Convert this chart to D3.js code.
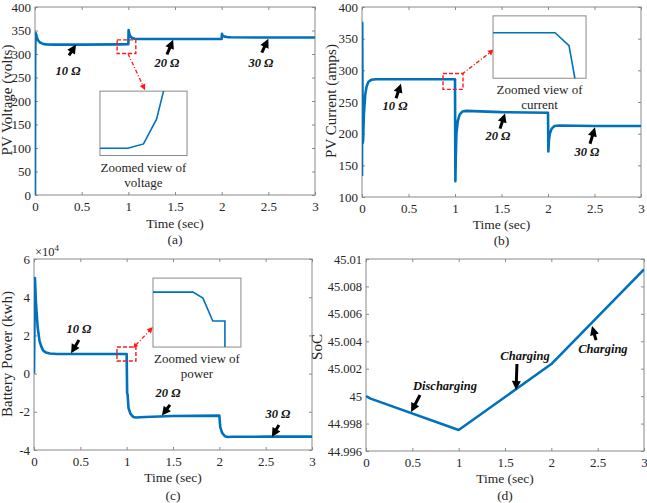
<!DOCTYPE html>
<html><head><meta charset="utf-8">
<script src="https://cdn.jsdelivr.net/npm/d3@7"></script>
<style>
html,body{margin:0;padding:0;background:#fff;}
svg{display:block;font-family:"Liberation Serif","Times New Roman",serif;}
</style></head>
<body>
<svg id="chart" width="647" height="503"></svg>
<script>
// ---------- DATA ----------
const xTicks = [0, 0.5, 1, 1.5, 2, 2.5, 3];
const xTickLabels = ["0", "0.5", "1", "1.5", "2", "2.5", "3"];

// (a) PV voltage
const voltTime = [0, 0.002, 0.006, 0.012, 0.02, 0.03, 0.05, 0.08, 0.12, 0.2, 0.5, 0.9, 1.0, 1.003, 1.008, 1.02, 1.04, 1.07, 1.1, 1.5, 2.0, 2.003, 2.01, 2.03, 2.06, 2.1, 2.5, 3];
const voltage  = [0, 290, 345, 342, 336, 330, 325, 322, 320.5, 320, 320, 320.5, 321, 351, 345, 338, 334, 332.5, 332, 332, 332, 343, 339, 337, 336, 335.5, 335, 335];
const voltTicks = [0, 50, 100, 150, 200, 250, 300, 350, 400];

// (b) PV current
const curTime = [0, 0.002, 0.004, 0.008, 0.012, 0.02, 0.035, 0.05, 0.07, 0.1, 0.15, 0.5, 1.0, 1.004, 1.008, 1.015, 1.03, 1.05, 1.08, 1.12, 1.5, 2.0, 2.004, 2.01, 2.02, 2.04, 2.07, 2.12, 2.5, 3];
const current = [133, 375, 300, 185, 190, 230, 262, 275, 282, 285, 286, 286, 286, 125, 160, 200, 220, 230, 235, 236, 234, 233, 172, 190, 200, 208, 212, 213, 212, 212];
const curTicks = [100, 150, 200, 250, 300, 350, 400];

// (c) Battery power (x10^4)
const powTime = [0, 0.01, 0.02, 0.04, 0.06, 0.08, 0.1, 0.13, 0.17, 0.25, 0.5, 1.0, 1.005, 1.01, 1.02, 1.04, 1.07, 1.1, 1.2, 1.5, 2.0, 2.01, 2.03, 2.06, 2.09, 2.15, 2.5, 3];
const power   = [0, 5.0, 3.8, 2.4, 1.7, 1.4, 1.2, 1.1, 1.05, 1.03, 1.03, 1.03, -1.0, -1.1, -1.8, -2.1, -2.27, -2.3, -2.27, -2.22, -2.2, -2.8, -3.1, -3.28, -3.32, -3.31, -3.3, -3.3];
const powTicks = [-4, -2, 0, 2, 4, 6];

// (d) SoC
const socTime = [0, 0.05, 1.0, 2.0, 3.0];
const soc     = [45.0000, 44.99982, 44.99753, 45.00234, 45.00925];
const socTicks = [44.996, 44.998, 45, 45.002, 45.004, 45.006, 45.008, 45.01];
const socTickLabels = ["44.996", "44.998", "45", "45.002", "45.004", "45.006", "45.008", "45.01"];

// Inset zoomed traces (normalized inset coordinates 0..1)
const voltInsetX = [0, 0.32, 0.5, 0.65, 0.73];
const voltInsetY = [0.112, 0.112, 0.18, 0.565, 1];
const curInsetX = [0, 0.667, 0.817, 0.88];
const curInsetY = [0.73, 0.73, 0.524, 0];
const powInsetX = [0, 0.455, 0.568, 0.68, 0.818, 0.818];
const powInsetY = [0.797, 0.797, 0.71, 0.377, 0.377, 0];

// Annotations: label, arrow head (t,v), arrow tail (t,v), text centre (t,v)
const voltNotes = [
  {label: "10 Ω", head: [0.44, 320], tail: [0.364, 297], text: [0.354, 262]},
  {label: "20 Ω", head: [1.48, 330.5], tail: [1.414, 299], text: [1.414, 278]},
  {label: "30 Ω", head: [2.50, 332.6], tail: [2.43, 303], text: [2.42, 278]}
];
const curNotes = [
  {label: "10 Ω", head: [0.419, 279], tail: [0.366, 256], text: [0.355, 242]},
  {label: "20 Ω", head: [1.538, 232], tail: [1.484, 208], text: [1.462, 194]},
  {label: "30 Ω", head: [2.505, 210], tail: [2.452, 184], text: [2.419, 170]}
];
const powNotes = [
  {label: "10 Ω", head: [0.40, 1.06], tail: [0.485, 1.76], text: [0.485, 2.28]},
  {label: "20 Ω", head: [1.38, -2.2], tail: [1.467, -1.64], text: [1.446, -1.07]},
  {label: "30 Ω", head: [2.567, -3.32], tail: [2.643, -2.69], text: [2.632, -2.17]}
];
const socNotes = [
  {label: "Discharging", head: [0.486, 44.99884], tail: [0.583, 45.00008], text: [0.852, 45.00067]},
  {label: "Charging", head: [1.619, 45.00045], tail: [1.629, 45.00234], text: [1.716, 45.00285]},
  {label: "Charging", head: [2.439, 45.00511], tail: [2.482, 45.00409], text: [2.557, 45.00336]}
];

// Zoom boxes (red dashed) and insets in parent data units
const voltZoom = {t0: 0.88, t1: 1.08, v0: 301, v1: 330};
const voltInset = {t0: 0.696, t1: 1.629, v0: 84, v1: 221, caption: ["Zoomed view of", "voltage"]};
const voltLink = {from: [0.996, 301], to: [1.179, 223], both: false};
const curZoom = {t0: 0.871, t1: 1.086, v0: 270, v1: 295};
const curInset = {t0: 1.409, t1: 2.409, v0: 287.5, v1: 386, caption: ["Zoomed view of", "current"]};
const curLink = {from: [1.075, 294], to: [1.419, 333], both: false};
const powZoom = {t0: 0.895, t1: 1.1, v0: 0.66, v1: 1.39};
const powInset = {t0: 1.284, t1: 2.233, v0: 1.39, v1: 5.0, caption: ["Zoomed view of", "power"]};
const powLink = {from: [1.068, 1.34], to: [1.284, 2.44], both: true};

// ---------- DRAWING ----------
const svg = d3.select("#chart");
const BLUE = "#0072BD", AXIS = "#8a8a8a", TXT = "#262626", FONT = "Liberation Serif";

function panel(opt) {
  const {box, yDomain, yTicks, yTickLabels, tData, vData} = opt;
  const g = svg.append("g").attr("font-family", FONT);
  const x = d3.scaleLinear().domain([0, 3]).range([box.l, box.r]);
  const y = d3.scaleLinear().domain(yDomain).range([box.b, box.t]);

  const xa = d3.axisBottom(x).tickValues(xTicks).tickFormat((d, i) => xTickLabels[i]).tickSizeInner(-3).tickSizeOuter(0).tickPadding(7);
  const ya = d3.axisLeft(y).tickValues(yTicks).tickFormat((d, i) => yTickLabels ? yTickLabels[i] : String(d)).tickSizeInner(-3).tickSizeOuter(0).tickPadding(4);
  const gx = g.append("g").attr("transform", `translate(0,${box.b})`).call(xa);
  const gy = g.append("g").attr("transform", `translate(${box.l},0)`).call(ya);
  const gxt = g.append("g").attr("transform", `translate(0,${box.t})`).call(d3.axisTop(x).tickValues(xTicks).tickFormat("").tickSizeInner(-3).tickSizeOuter(0));
  const gyr = g.append("g").attr("transform", `translate(${box.r},0)`).call(d3.axisRight(y).tickValues(yTicks).tickFormat("").tickSizeInner(-3).tickSizeOuter(0));
  [gx, gy, gxt, gyr].forEach(a => {
    a.attr("font-family", FONT).attr("font-size", 13);
    a.select(".domain").remove();
    a.selectAll("line").attr("stroke", AXIS);
    a.selectAll("text").attr("fill", TXT);
  });
  if (opt.yTickSize) gy.attr("font-size", opt.yTickSize);
  g.append("rect").attr("x", box.l).attr("y", box.t).attr("width", box.r - box.l).attr("height", box.b - box.t)
    .attr("fill", "none").attr("stroke", AXIS).attr("stroke-width", 1);

  const clipId = "clip" + Math.random().toString(36).slice(2);
  svg.append("clipPath").attr("id", clipId).append("rect")
    .attr("x", box.l).attr("y", box.t - 2).attr("width", box.r - box.l).attr("height", box.b - box.t + 4);
  const line = d3.line().x(d => x(d[0])).y(d => y(d[1]));
  g.append("path").datum(tData.map((t, i) => [t, vData[i]]))
    .attr("d", line).attr("fill", "none").attr("stroke", BLUE).attr("stroke-width", 2.6)
    .attr("stroke-linejoin", "round").attr("clip-path", `url(#${clipId})`);

  // labels
  g.append("text").attr("x", (box.l + box.r) / 2).attr("y", box.b + opt.xlabDy).attr("text-anchor", "middle")
    .attr("fill", TXT).attr("font-size", 13.5).text("Time (sec)");
  g.append("text").attr("x", (box.l + box.r) / 2).attr("y", box.b + opt.capDy).attr("text-anchor", "middle")
    .attr("fill", TXT).attr("font-size", 13.5).text(opt.caption);
  g.append("text").attr("transform", `translate(${opt.ylabX},${opt.ylabY}) rotate(-90)`).attr("text-anchor", "middle")
    .attr("fill", TXT).attr("font-size", 15).text(opt.ylabel);
  return {g, x, y};
}

function arrowHead(g, x1, y1, x2, y2, len, wid, color) {
  const a = Math.atan2(y2 - y1, x2 - x1);
  const bx = x2 - len * Math.cos(a), by = y2 - len * Math.sin(a);
  const px = -Math.sin(a) * wid / 2, py = Math.cos(a) * wid / 2;
  g.append("path").attr("d", `M${x2},${y2}L${bx + px},${by + py}L${bx - px},${by - py}Z`).attr("fill", color);
  return [bx + 1 * Math.cos(a), by + 1 * Math.sin(a)];
}

function notes(p, list) {
  list.forEach(n => {
    const hx = p.x(n.head[0]), hy = p.y(n.head[1]);
    const tx = p.x(n.tail[0]), ty = p.y(n.tail[1]);
    const [bx, by] = arrowHead(p.g, tx, ty, hx, hy, 9, 9, "#000");
    p.g.append("line").attr("x1", tx).attr("y1", ty).attr("x2", bx).attr("y2", by)
      .attr("stroke", "#000").attr("stroke-width", 3);
    p.g.append("text").attr("x", p.x(n.text[0])).attr("y", p.y(n.text[1])).attr("text-anchor", "middle")
      .attr("dominant-baseline", "middle").attr("fill", "#111").attr("font-family", FONT)
      .attr("font-size", 12.5).attr("font-weight", "bold").attr("font-style", "italic").text(n.label);
  });
}

function zoomInset(p, zb, ins, link, ix, iy) {
  p.g.append("rect").attr("x", p.x(zb.t0)).attr("y", p.y(zb.v1))
    .attr("width", p.x(zb.t1) - p.x(zb.t0)).attr("height", p.y(zb.v0) - p.y(zb.v1))
    .attr("fill", "none").attr("stroke", "#ff1a1a").attr("stroke-width", 1.4).attr("stroke-dasharray", "4,2");
  const fx = p.x(link.from[0]), fy = p.y(link.from[1]), tx = p.x(link.to[0]), ty = p.y(link.to[1]);
  const [bx, by] = arrowHead(p.g, fx, fy, tx, ty, 6, 6, "#ff1a1a");
  let sx = fx, sy = fy;
  if (link.both) { [sx, sy] = arrowHead(p.g, tx, ty, fx, fy, 5, 5, "#ff1a1a"); }
  p.g.append("line").attr("x1", sx).attr("y1", sy).attr("x2", bx).attr("y2", by)
    .attr("stroke", "#ff1a1a").attr("stroke-width", 1.3).attr("stroke-dasharray", "4,2,1,2");
  const L = p.x(ins.t0), R = p.x(ins.t1), T = p.y(ins.v1), B = p.y(ins.v0);
  p.g.append("rect").attr("x", L).attr("y", T).attr("width", R - L).attr("height", B - T)
    .attr("fill", "#fff").attr("stroke", AXIS).attr("stroke-width", 1);
  const sx2 = d3.scaleLinear().domain([0, 1]).range([L, R]);
  const sy2 = d3.scaleLinear().domain([0, 1]).range([B, T]);
  p.g.append("path").datum(ix.map((v, i) => [v, iy[i]]))
    .attr("d", d3.line().x(d => sx2(d[0])).y(d => sy2(d[1])))
    .attr("fill", "none").attr("stroke", BLUE).attr("stroke-width", 1.6);
  ins.caption.forEach((c, i) => {
    p.g.append("text").attr("x", (L + R) / 2).attr("y", B + 13 + i * 15).attr("text-anchor", "middle")
      .attr("dominant-baseline", "middle").attr("fill", TXT).attr("font-size", 13).text(c);
  });
}

// (a)
const pa = panel({box: {l: 35, t: 7, r: 315, b: 195}, yDomain: [0, 400], yTicks: voltTicks,
  tData: voltTime, vData: voltage, xlabDy: 33, capDy: 48.5, caption: "(a)", ylabel: "PV Voltage (volts)", ylabX: 12, ylabY: 100});
zoomInset(pa, voltZoom, voltInset, voltLink, voltInsetX, voltInsetY);
notes(pa, voltNotes);

// (b)
const pb = panel({box: {l: 362, t: 7, r: 641, b: 197}, yDomain: [100, 400], yTicks: curTicks,
  tData: curTime, vData: current, xlabDy: 32, capDy: 47.5, caption: "(b)", ylabel: "PV Current (amps)", ylabX: 336, ylabY: 101});
zoomInset(pb, curZoom, curInset, curLink, curInsetX, curInsetY);
notes(pb, curNotes);

// (c)
const pc = panel({box: {l: 34, t: 259, r: 312, b: 450}, yDomain: [-4, 6], yTicks: powTicks,
  tData: powTime, vData: power, xlabDy: 32, capDy: 49.5, caption: "(c)", ylabel: "Battery Power (kwh)", ylabX: 12, ylabY: 354});
zoomInset(pc, powZoom, powInset, powLink, powInsetX, powInsetY);
notes(pc, powNotes);
const mult = pc.g.append("text").attr("x", 35).attr("y", 256).attr("fill", TXT).attr("font-size", 12.5);
mult.append("tspan").text("×10");
mult.append("tspan").attr("dy", -5).attr("font-size", 9).text("4");

// (d)
const pd = panel({box: {l: 366, t: 259, r: 644, b: 451}, yDomain: [44.996, 45.01], yTicks: socTicks, yTickLabels: socTickLabels, yTickSize: 12.5,
  tData: socTime, vData: soc, xlabDy: 32, capDy: 49, caption: "(d)", ylabel: "SoC", ylabX: 322, ylabY: 347});
notes(pd, socNotes);
</script>
</body></html>
